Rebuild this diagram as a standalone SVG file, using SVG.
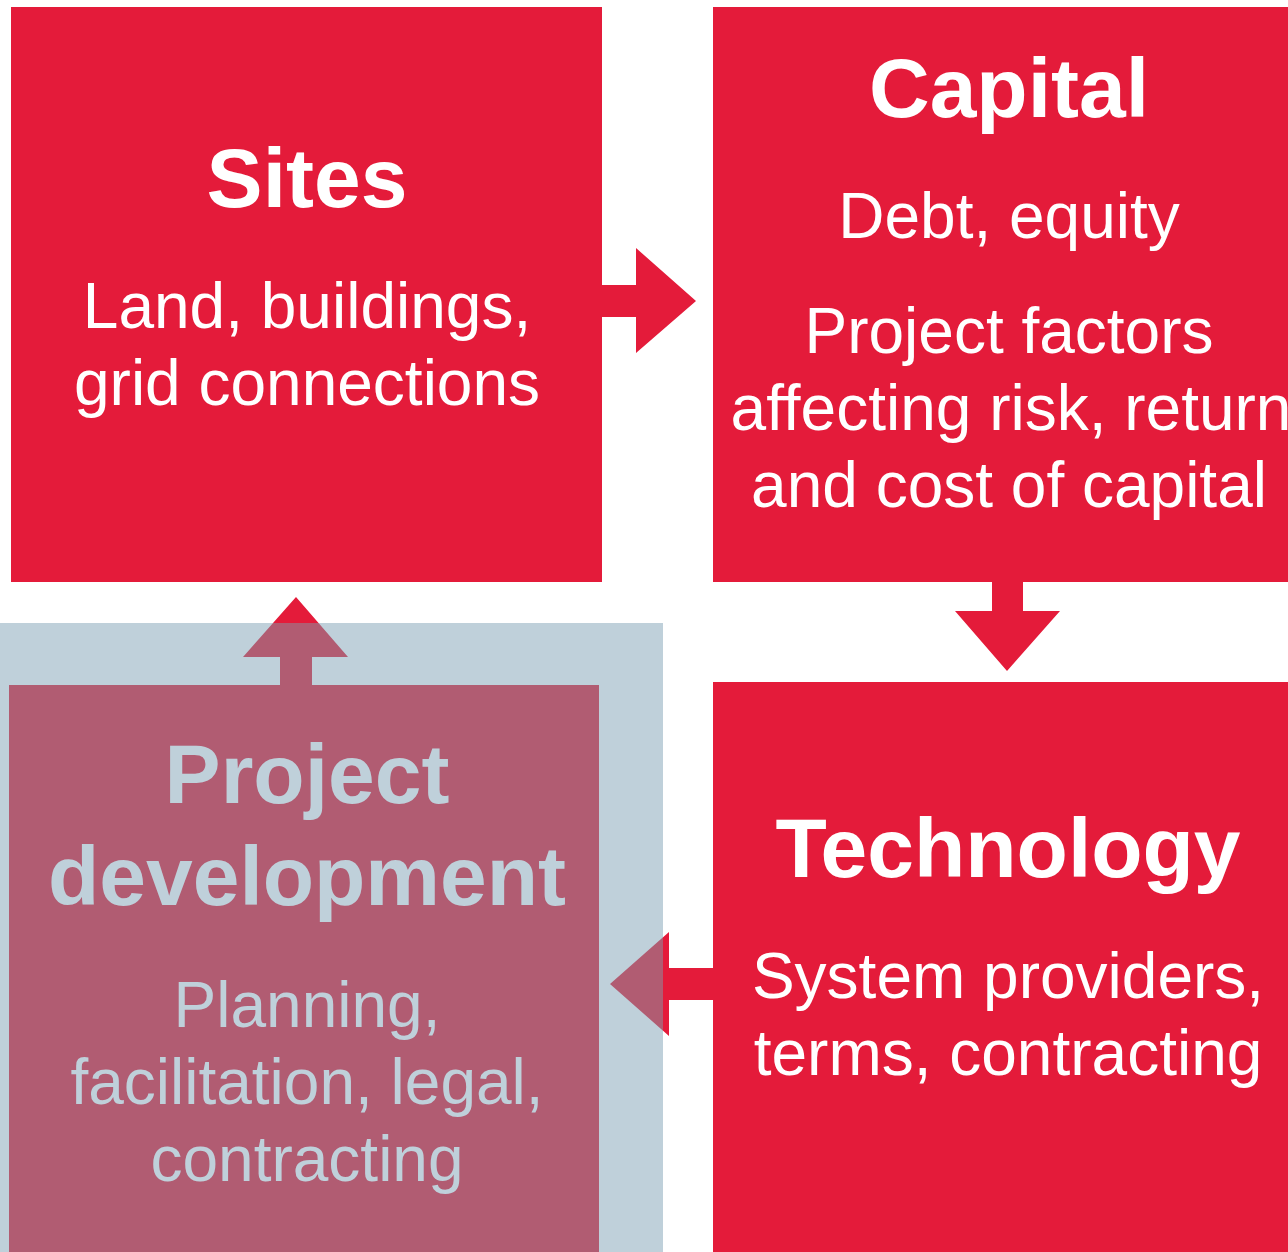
<svg xmlns="http://www.w3.org/2000/svg" width="1288" height="1252" viewBox="0 0 1288 1252">
<style>
.box{fill:#E41B3A}
.t{font-family:"Liberation Sans",Arial,sans-serif;text-anchor:middle;fill:#FFFFFF}
.h{font-size:84px;font-weight:bold}
.b{font-size:64px}
.pd{fill:#BFD0DA}
</style>
<defs>
<clipPath id="ov"><rect x="0" y="623" width="663" height="629"/></clipPath>
</defs>
<rect width="1288" height="1252" fill="#FFFFFF"/>
<g id="connectors">
<polygon class="box" points="602,285 636,285 636,248 696,301 636,353 636,317 602,317"/>
<polygon class="box" points="992,582 1023,582 1023,611 1060,611 1007,671 955,611 992,611"/>
<polygon class="box" points="280,685 280,657 243,657 296,597 348,657 312,657 312,685"/>
<polygon class="box" points="713,968 669,968 669,932 610,984 669,1036 669,1000 713,1000"/>
</g>
<g id="sites">
<rect class="box" x="11" y="7" width="591" height="575"/>
<text class="t h" x="307" y="207">Sites</text>
<text class="t b" x="307" y="328">Land, buildings,</text>
<text class="t b" x="307" y="405">grid connections</text>
</g>
<g id="capital">
<rect class="box" x="713" y="7" width="575" height="575"/>
<text class="t h" x="1009" y="117">Capital</text>
<text class="t b" x="1009" y="238">Debt, equity</text>
<text class="t b" x="1009" y="353">Project factors</text>
<text class="t b" x="1011" y="430">affecting risk, return</text>
<text class="t b" x="1009" y="507">and cost of capital</text>
</g>
<g id="technology">
<rect class="box" x="713" y="682" width="575" height="570"/>
<text class="t h" x="1008" y="877">Technology</text>
<text class="t b" x="1008" y="998">System providers,</text>
<text class="t b" x="1008" y="1075">terms, contracting</text>
</g>
<g id="project-development">
<rect class="pd" x="0" y="623" width="663" height="629"/>
<g clip-path="url(#ov)" fill="#B15C72">
<polygon points="280,685 280,657 243,657 296,597 348,657 312,657 312,685"/>
<polygon points="713,968 669,968 669,932 610,984 669,1036 669,1000 713,1000"/>
</g>
<rect x="9" y="685" width="590" height="567" fill="#B15C72"/>
<text class="t h" x="307" y="803" style="fill:#BFD0DA">Project</text>
<text class="t h" x="307" y="905" style="fill:#BFD0DA">development</text>
<text class="t b" x="307" y="1027" style="fill:#BFD0DA">Planning,</text>
<text class="t b" x="307" y="1104" style="fill:#BFD0DA">facilitation, legal,</text>
<text class="t b" x="307" y="1181" style="fill:#BFD0DA">contracting</text>
</g>
</svg>
